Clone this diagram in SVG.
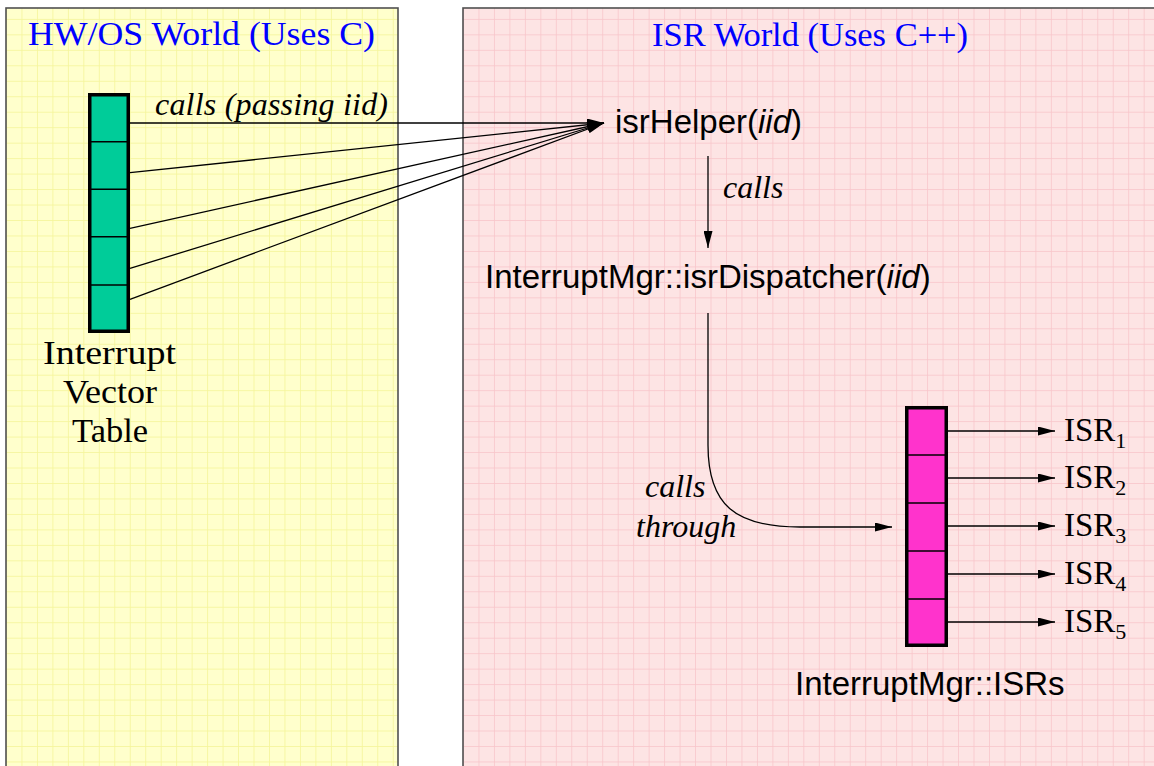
<svg xmlns="http://www.w3.org/2000/svg" width="1154" height="766" viewBox="0 0 1154 766">
  <style>
    .panel { stroke: #505050; stroke-width: 1.6; }
    .title { font-family: "Liberation Serif", "Times New Roman", serif; font-size: 33px; fill: #0000FF; }
    .serif { font-family: "Liberation Serif", "Times New Roman", serif; fill: #000; }
    .ital { font-family: "Liberation Serif", "Times New Roman", serif; font-style: italic; font-size: 32px; fill: #000; }
    .sans { font-family: "Liberation Sans", Arial, sans-serif; font-size: 33px; fill: #000; }
    .conn { fill: none; stroke: #000; stroke-width: 1.3; }
    .tbl { stroke: #000; stroke-width: 3.5; }
    .div { stroke: #000; stroke-width: 1.6; }
  </style>
  <defs>
    <pattern id="gridY" patternUnits="userSpaceOnUse" x="6" y="3.43" width="15.47" height="15.47">
      <rect width="15.47" height="15.47" fill="#FFFFCC"/>
      <path d="M0,0.4 H15.47 M0.4,0 V15.47" stroke="#F4F49A" stroke-width="0.9" fill="none"/>
    </pattern>
    <pattern id="gridP" patternUnits="userSpaceOnUse" x="463" y="3.43" width="15.47" height="15.47">
      <rect width="15.47" height="15.47" fill="#FDE4E4"/>
      <path d="M0,0.4 H15.47 M0.4,0 V15.47" stroke="#F8C6CA" stroke-width="0.9" fill="none"/>
    </pattern>
    <marker id="arr" markerUnits="userSpaceOnUse" viewBox="0 0 17 9" refX="17" refY="4.5" markerWidth="17" markerHeight="9" orient="auto">
      <path d="M0,0 L17,4.5 L0,9 z" fill="#000"/>
    </marker>
  </defs>

  <rect width="1154" height="766" fill="#FFFFFF"/>

  <g id="hw-os-world">
    <rect class="panel" x="6" y="8" width="392" height="770" fill="url(#gridY)"/>
    <text class="title" x="28" y="45" textLength="347" lengthAdjust="spacingAndGlyphs">HW/OS World (Uses C)</text>
  </g>

  <g id="isr-world">
    <rect class="panel" x="463" y="8" width="700" height="770" fill="url(#gridP)"/>
    <text class="title" x="652" y="46" textLength="316" lengthAdjust="spacingAndGlyphs">ISR World (Uses C++)</text>
  </g>

  <g id="interrupt-vector-table">
    <rect class="tbl" x="89.75" y="94.75" width="38.5" height="236.5" fill="#00CC99"/>
    <line class="div" x1="89" y1="141.7" x2="129" y2="141.7"/>
    <line class="div" x1="89" y1="189.3" x2="129" y2="189.3"/>
    <line class="div" x1="89" y1="236.7" x2="129" y2="236.7"/>
    <line class="div" x1="89" y1="285" x2="129" y2="285"/>
    <g class="serif" font-size="33" text-anchor="middle">
      <text x="109.5" y="364" textLength="133" lengthAdjust="spacingAndGlyphs">Interrupt</text>
      <text x="110" y="403" textLength="94" lengthAdjust="spacingAndGlyphs">Vector</text>
      <text x="110" y="442" textLength="76" lengthAdjust="spacingAndGlyphs">Table</text>
    </g>
  </g>

  <g id="isr-helper">
    <text class="sans" x="615" y="133">isrHelper(<tspan font-style="italic">iid</tspan>)</text>
  </g>

  <g id="isr-dispatcher">
    <text class="sans" x="485" y="288">InterruptMgr::isrDispatcher(<tspan font-style="italic">iid</tspan>)</text>
  </g>

  <g id="isr-table">
    <rect class="tbl" x="906.75" y="407.75" width="39.5" height="237.5" fill="#FF33CC"/>
    <line class="div" x1="906" y1="455" x2="947" y2="455"/>
    <line class="div" x1="906" y1="503" x2="947" y2="503"/>
    <line class="div" x1="906" y1="551" x2="947" y2="551"/>
    <line class="div" x1="906" y1="599" x2="947" y2="599"/>
    <text class="sans" x="795" y="695" font-size="32.5">InterruptMgr::ISRs</text>
  </g>

  <g id="isr-labels" class="serif" font-size="33">
    <text id="isr1" x="1064" y="441">ISR<tspan font-size="22" dy="7">1</tspan></text>
    <text id="isr2" x="1064" y="488">ISR<tspan font-size="22" dy="7">2</tspan></text>
    <text id="isr3" x="1064" y="536">ISR<tspan font-size="22" dy="7">3</tspan></text>
    <text id="isr4" x="1064" y="584">ISR<tspan font-size="22" dy="7">4</tspan></text>
    <text id="isr5" x="1064" y="632">ISR<tspan font-size="22" dy="7">5</tspan></text>
  </g>

  <g id="connectors">
    <line class="conn" x1="130" y1="123" x2="604" y2="123" marker-end="url(#arr)"/>
    <line class="conn" x1="130" y1="172.7" x2="604" y2="123" marker-end="url(#arr)"/>
    <line class="conn" x1="130" y1="228.3" x2="604" y2="123" marker-end="url(#arr)"/>
    <line class="conn" x1="130" y1="268.3" x2="604" y2="123" marker-end="url(#arr)"/>
    <line class="conn" x1="130" y1="299.3" x2="604" y2="123" marker-end="url(#arr)"/>
    <line class="conn" x1="708" y1="156" x2="708" y2="248" marker-end="url(#arr)"/>
    <path class="conn" d="M708,313 L708,445 C708,505 735,527 800,527 L892,527" marker-end="url(#arr)"/>
    <line class="conn" x1="948" y1="431" x2="1055" y2="431" marker-end="url(#arr)"/>
    <line class="conn" x1="948" y1="478" x2="1055" y2="478" marker-end="url(#arr)"/>
    <line class="conn" x1="948" y1="526" x2="1055" y2="526" marker-end="url(#arr)"/>
    <line class="conn" x1="948" y1="574" x2="1055" y2="574" marker-end="url(#arr)"/>
    <line class="conn" x1="948" y1="622" x2="1055" y2="622" marker-end="url(#arr)"/>
    <text class="ital" x="155" y="115" textLength="233">calls (passing iid)</text>
    <text class="ital" x="723" y="198" font-size="31">calls</text>
    <text class="ital" x="645" y="497">calls</text>
    <text class="ital" x="636" y="537">through</text>
  </g>
</svg>
